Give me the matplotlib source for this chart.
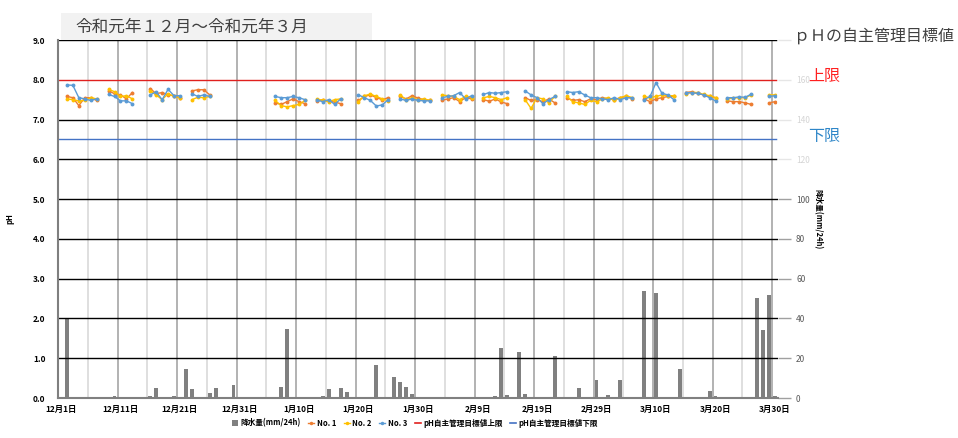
import numpy as np
import matplotlib
matplotlib.use("Agg")
import matplotlib.pyplot as plt
from matplotlib.patches import Rectangle
from matplotlib.lines import Line2D

plt.rcParams['font.family'] = ['Noto Sans CJK JP', 'DejaVu Sans']

# ---- data ----
n_days = 121  # 12/1 .. 3/30
tick_pos = list(range(0, 121, 10))
tick_labels = ["12月1日", "12月11日", "12月21日", "12月31日", "1月10日", "1月20日",
               "1月30日", "2月9日", "2月19日", "2月29日", "3月10日", "3月20日", "3月30日"]

# first day index of each measuring run
group_start = [1, 8, 15, 22, 36, 43, 50, 57, 64, 71, 78, 85, 98, 105, 112, 119]

no1 = [[7.58, 7.55, 7.35, 7.55, 7.55, 7.48],
       [7.72, 7.65, 7.62, 7.52, 7.68],
       [7.78, 7.65, 7.68, 7.62, 7.60, 7.55],
       [7.72, 7.75, 7.75, 7.62],
       [7.42, 7.38, 7.45, 7.52, 7.45, 7.40],
       [7.46, 7.50, 7.46, 7.44, 7.40],
       [7.48, 7.58, 7.62, 7.55, 7.50, 7.55],
       [7.58, 7.52, 7.60, 7.54, 7.50, 7.48],
       [7.48, 7.52, 7.55, 7.45, 7.55, 7.52],
       [7.50, 7.46, 7.52, 7.44, 7.40],
       [7.55, 7.48, 7.50, 7.45, 7.52, 7.42],
       [7.55, 7.48, 7.50, 7.45, 7.52, 7.50, 7.55, 7.52, 7.50, 7.55, 7.58, 7.52],
       [7.52, 7.45, 7.52, 7.55, 7.58, 7.58],
       [7.68, 7.70, 7.66, 7.62, 7.58, 7.55],
       [7.47, 7.45, 7.45, 7.42, 7.38],
       [7.42, 7.45]]

no2 = [[7.52, 7.50, 7.47, 7.48, 7.55, 7.52],
       [7.76, 7.70, 7.58, 7.60, 7.52],
       [7.72, 7.62, 7.50, 7.65, 7.58, 7.55],
       [7.50, 7.56, 7.55, 7.58],
       [7.48, 7.35, 7.32, 7.35, 7.38, 7.48],
       [7.52, 7.48, 7.45, 7.50, 7.52],
       [7.45, 7.60, 7.64, 7.58, 7.52, 7.47],
       [7.62, 7.50, 7.55, 7.50, 7.52, 7.48],
       [7.62, 7.60, 7.58, 7.50, 7.58, 7.55],
       [7.55, 7.58, 7.55, 7.50, 7.55],
       [7.50, 7.28, 7.55, 7.52, 7.42, 7.58],
       [7.58, 7.45, 7.42, 7.38, 7.48, 7.45, 7.52, 7.55, 7.48, 7.55, 7.60, 7.55],
       [7.58, 7.55, 7.58, 7.62, 7.60, 7.60],
       [7.65, 7.68, 7.68, 7.63, 7.60, 7.55],
       [7.52, 7.54, 7.55, 7.55, 7.62],
       [7.62, 7.62]]

no3 = [[7.87, 7.86, 7.55, 7.52, 7.48, 7.52],
       [7.63, 7.58, 7.47, 7.47, 7.40],
       [7.62, 7.70, 7.50, 7.76, 7.60, 7.60],
       [7.65, 7.58, 7.62, 7.58],
       [7.58, 7.55, 7.55, 7.58, 7.55, 7.50],
       [7.49, 7.45, 7.50, 7.38, 7.52],
       [7.62, 7.55, 7.48, 7.34, 7.37, 7.50],
       [7.52, 7.48, 7.52, 7.48, 7.47, 7.47],
       [7.55, 7.58, 7.60, 7.68, 7.52, 7.60],
       [7.63, 7.68, 7.66, 7.68, 7.70],
       [7.72, 7.62, 7.55, 7.40, 7.50, 7.58],
       [7.70, 7.68, 7.70, 7.62, 7.55, 7.55, 7.52, 7.50, 7.55, 7.50, 7.55, 7.55],
       [7.50, 7.58, 7.93, 7.66, 7.62, 7.50],
       [7.68, 7.67, 7.66, 7.62, 7.55, 7.47],
       [7.55, 7.55, 7.57, 7.56, 7.64],
       [7.58, 7.60]]

rain_day = [1, 9, 15, 16, 19, 21, 22, 25, 26, 29, 37, 38, 44, 45, 47, 48, 53, 55, 56, 57,
            58, 59, 73, 74, 75, 77, 78, 83, 87, 90, 92, 94, 98, 100, 104, 109, 110, 117,
            118, 119, 120]
rain_mm = [40, 1, 1, 5, 1, 14.5, 4.5, 2.5, 5, 6.5, 5.5, 34.5, 1, 4.5, 5, 3, 16.5, 0.5, 10.5, 8,
           5.5, 2, 1, 25, 1.5, 23, 2, 21, 5, 9, 1.5, 9, 54, 53, 14.5, 3.5, 1, 50.5,
           34, 52, 1]

ph_upper = 8.0
ph_lower = 6.5


def to_series(groups):
    arr = np.full(n_days, np.nan)
    for s, vals in zip(group_start, groups):
        arr[s:s + len(vals)] = vals
    return arr


x = np.arange(n_days)
c_no1, c_no2, c_no3 = '#ED7D31', '#FFC000', '#5B9BD5'
c_up, c_low = '#E0201E', '#4472C4'
c_bar = '#808080'

fig = plt.figure(figsize=(9.58, 4.38), dpi=100)
ax = fig.add_axes([58 / 958, 1 - 398 / 438, 720 / 958, 358 / 438])
ax2 = ax.twinx()

# rainfall bars on the secondary axis
ax2.bar(rain_day, rain_mm, width=0.65, color=c_bar, zorder=2)
ax2.set_ylim(0, 180)
ax2.set_yticks(range(0, 181, 20))
ax2.set_yticklabels([str(v) if v < 180 else '' for v in range(0, 181, 20)])
ax2.tick_params(axis='y', length=9, width=1, color='#A0A0A0', labelsize=6,
                labelcolor='#595959', pad=4)
ax2.set_ylabel('降水量(mm/24h)', fontsize=5.5, fontweight='bold', rotation=-90,
               labelpad=9)

# grid lines
for v in range(0, 10):
    if v == 8:
        continue
    ax.axhline(v, color='black', lw=1, zorder=1)
for k, gx in enumerate(np.arange(4.5, n_days, 5)):
    ax.axvline(gx, color='#A6A6A6' if k % 2 else '#D9D9D9', lw=1.2, zorder=0.5)
ax.axhline(ph_upper, color=c_up, lw=1, zorder=1.5)
ax.axhline(ph_lower, color=c_low, lw=1, zorder=1.5)

for arr, col in [(no1, c_no1), (no2, c_no2), (no3, c_no3)]:
    ax.plot(x, to_series(arr), color=col, lw=1, marker='o', markersize=2.8,
            markeredgewidth=0, zorder=3)

ax.set_xlim(-0.5, n_days - 0.5)
ax.set_ylim(0, 9)
ax.set_yticks(np.arange(0, 10))
ax.set_yticklabels([f'{v:.1f}' for v in range(10)], fontsize=6, fontweight='bold')
ax.set_xticks(tick_pos)
ax.set_xticklabels(tick_labels, fontsize=6, fontweight='bold')
ax.tick_params(axis='x', length=0, pad=5)
ax.tick_params(axis='y', length=0, pad=9)
ax.set_ylabel('pH', fontsize=5.5, fontweight='bold', labelpad=13)

ax.set_zorder(ax2.get_zorder() + 1)
ax.patch.set_visible(False)
for a in (ax, ax2):
    a.spines['top'].set_visible(False)
    a.spines['right'].set_visible(False)
ax.spines['left'].set_color('#7F7F7F')
ax.spines['left'].set_linewidth(1.5)
ax.spines['bottom'].set_color('#808080')
ax.spines['bottom'].set_linewidth(1.5)
ax2.spines['left'].set_visible(False)
ax2.spines['bottom'].set_visible(False)

# faded area behind the right-side notes
fig.patches.append(Rectangle((777 / 958, 1 - 165 / 438), 181 / 958, 140 / 438,
                             transform=fig.transFigure, facecolor='white', alpha=0.75,
                             edgecolor='none', zorder=5))

# title box
fig.patches.append(Rectangle((61 / 958, 1 - 40 / 438), 311 / 958, 27 / 438,
                             transform=fig.transFigure, facecolor='#F2F2F2',
                             edgecolor='none', zorder=5))
fig.text(75 / 958, 1 - 27 / 438, '令和元年１２月～令和元年３月', fontsize=12,
         color='#404040', va='center', ha='left', zorder=6)

fig.text(794 / 958, 1 - 36 / 438, 'ｐＨの自主管理目標値', fontsize=11.5,
         color='#404040', va='center', ha='left', zorder=6)
fig.text(808 / 958, 1 - 77 / 438, '上限', fontsize=11.5, color='#FF2020',
         va='center', ha='left', zorder=6)
fig.text(808 / 958, 1 - 136 / 438, '下限', fontsize=11.5, color='#2E86C8',
         va='center', ha='left', zorder=6)

handles = [
    Rectangle((0, 0), 1, 1, facecolor=c_bar),
    Line2D([], [], color=c_no1, lw=1, marker='o', markersize=2.5, markeredgewidth=0),
    Line2D([], [], color=c_no2, lw=1, marker='o', markersize=2.5, markeredgewidth=0),
    Line2D([], [], color=c_no3, lw=1, marker='o', markersize=2.5, markeredgewidth=0),
    Line2D([], [], color=c_up, lw=1.2),
    Line2D([], [], color=c_low, lw=1.2),
]
labels = ['降水量(mm/24h)', 'No. 1', 'No. 2', 'No. 3', 'pH自主管理目標値上限', 'pH自主管理目標値下限']
fig.legend(handles, labels, loc='center', bbox_to_anchor=(415 / 958, 1 - 423 / 438),
           ncol=6, frameon=False, prop={'size': 5.5, 'weight': 'bold'},
           handlelength=0.8, handletextpad=0.3, columnspacing=1.0,
           handleheight=0.7)

fig.savefig('out.png', dpi=100)
